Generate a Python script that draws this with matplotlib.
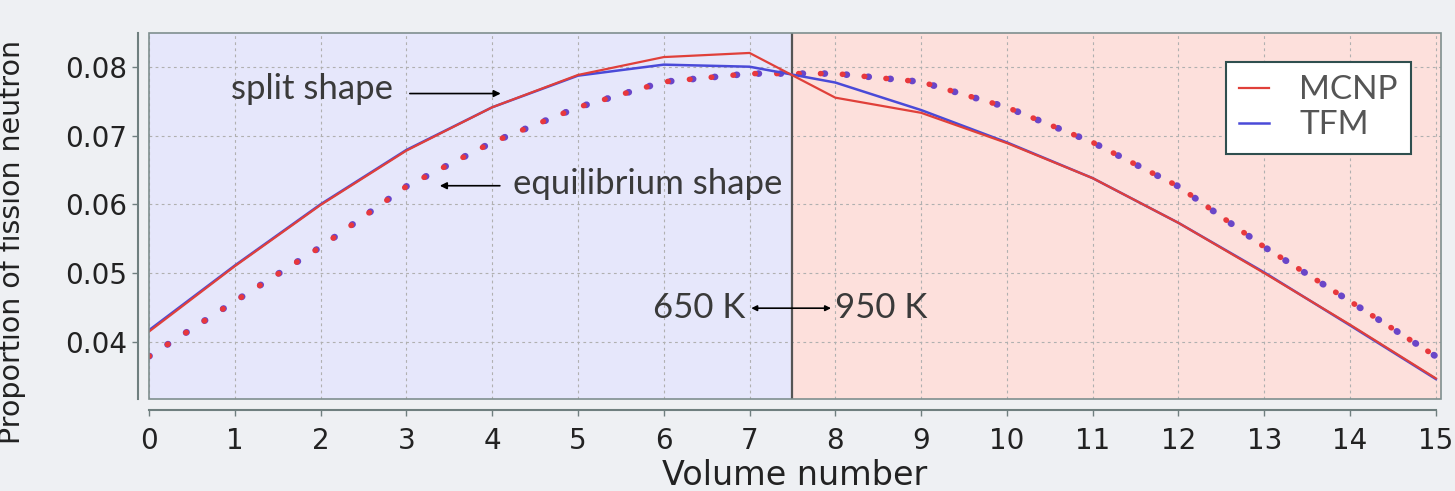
import matplotlib.pyplot as plt
from matplotlib.patches import Rectangle

# 数据：体积编号与裂变中子份额
volume = list(range(16))
mcnp_split = [0.0415, 0.0510, 0.0599, 0.0678, 0.0741, 0.0788, 0.0814, 0.0820,
              0.0755, 0.0733, 0.0689, 0.0638, 0.0573, 0.0500, 0.0425, 0.0347]
tfm_split = [0.0417, 0.0511, 0.0600, 0.0679, 0.0741, 0.0787, 0.0803, 0.0800,
             0.0777, 0.0737, 0.0690, 0.0638, 0.0573, 0.0501, 0.0424, 0.0346]
mcnp_equil = [0.0379, 0.0459, 0.0538, 0.0626, 0.0690, 0.0741, 0.0778, 0.0790,
              0.0790, 0.0778, 0.0741, 0.0690, 0.0626, 0.0538, 0.0459, 0.0379]
tfm_equil = [0.0379, 0.0459, 0.0538, 0.0626, 0.0690, 0.0741, 0.0778, 0.0790,
             0.0790, 0.0778, 0.0741, 0.0690, 0.0626, 0.0538, 0.0459, 0.0379]
split_at = 7.5
x_ticks = list(range(16))
y_ticks = [0.04, 0.05, 0.06, 0.07, 0.08]

plt.rcParams.update({
    'font.family': ['DejaVu Sans'],
    'xtick.labelsize': 20,
    'ytick.labelsize': 20,
})

fig = plt.figure(figsize=(14.55, 4.91), dpi=100, facecolor='#eef0f3')
ax = fig.add_axes([149 / 1455, 92 / 491, 1292 / 1455, 366 / 491])
ax.set_xlim(0, 15.06)
ax.set_ylim(0.0317, 0.0849)

# 两个温度区的背景
ax.axvspan(0, split_at, color='#e6e7fb', zorder=0)
ax.axvspan(split_at, 15.06, color='#fde0dc', zorder=0)
ax.axvline(split_at, color='#555555', lw=1.6, zorder=1)

ax.grid(True, ls=(0, (2.5, 3)), color='#b0b0b0', lw=0.8, zorder=1)
ax.set_axisbelow(True)

# 平衡形状（点线），两条曲线几乎重合
ax.plot(volume, tfm_equil, ls=(0, (0.1, 3.2)), lw=4.8, color='#6a46c8',
        dash_capstyle='round', zorder=3)
ax.plot(volume, mcnp_equil, ls=(0, (0.1, 3.2 * 4.8 / 4.0)), lw=4.0, color='#e8383c',
        dash_capstyle='round', zorder=3)
ax.plot(volume, tfm_split, color='#4a4ad8', lw=1.8, label='TFM', zorder=4)
ax.plot(volume, mcnp_split, color='#e0403a', lw=1.6, label='MCNP', zorder=4)

# 坐标轴：外移的轴线 + 细边框
for s in ['top', 'right']:
    ax.spines[s].set_visible(False)
for s in ['left', 'bottom']:
    ax.spines[s].set_position(('outward', 8))
    ax.spines[s].set_color('#6f7f7f')
    ax.spines[s].set_linewidth(1.5)
ax.add_patch(Rectangle((0, 0), 1, 1, transform=ax.transAxes, fill=False,
                       ec='#7f8f8f', lw=1.2, zorder=5, clip_on=False))
ax.spines['bottom'].set_bounds(0, 15)
ax.spines['left'].set_bounds(0.0317, 0.0849)

ax.set_xticks(x_ticks)
ax.set_yticks(y_ticks)
ax.set_yticklabels([f'{v:.2f}' for v in y_ticks])
ax.tick_params(colors='#6f7f7f', labelcolor='#222222', length=4, width=1)
ax.tick_params(axis='x', pad=8)
ax.set_xlabel('Volume number', color='#222222', fontsize=24, labelpad=0)
ax.set_ylabel('Proportion of fission neutron', color='#222222', fontsize=20.5)
ax.yaxis.set_label_coords(-0.095, 0.43)
ax.xaxis.set_label_coords(0.5, -0.165)

txt = dict(family=['Lato', 'DejaVu Sans'], fontsize=25, color='#3a3a3a')
ax.text(0.95, 0.0767, 'split shape', ha='left', va='center', **txt)
ax.annotate('', xy=(4.1, 0.0761), xytext=(3.04, 0.0761),
            arrowprops=dict(arrowstyle='-|>', color='black', lw=1.2,
                            shrinkA=0, shrinkB=0))
ax.text(4.24, 0.0629, 'equilibrium shape', ha='left', va='center', **txt)
ax.annotate('', xy=(3.39, 0.0627), xytext=(4.09, 0.0627),
            arrowprops=dict(arrowstyle='-|>', color='black', lw=1.2,
                            shrinkA=0, shrinkB=0))
ax.text(6.95, 0.0450, '650 K', ha='right', va='center', **txt)
ax.text(8.0, 0.0450, '950 K', ha='left', va='center', **txt)
ax.annotate('', xy=(7.02, 0.0449), xytext=(7.95, 0.0449),
            arrowprops=dict(arrowstyle='<|-|>', color='black', lw=1.2,
                            shrinkA=0, shrinkB=0, mutation_scale=8))

handles, labels = ax.get_legend_handles_labels()
leg = ax.legend(handles[::-1], labels[::-1], loc='upper right',
                bbox_to_anchor=(0.977, 0.921), borderaxespad=0, fontsize=24,
                frameon=True, fancybox=False, framealpha=1, handlelength=0.9,
                borderpad=0.4, labelspacing=0.15, handletextpad=0.9)
leg.get_frame().set_edgecolor('#2f4f4f')
leg.get_frame().set_linewidth(1.5)
for t in leg.get_texts():
    t.set_color('#555555')
    t.set_family(['Lato', 'DejaVu Sans'])

fig.savefig('out.png', dpi=100, facecolor=fig.get_facecolor())
